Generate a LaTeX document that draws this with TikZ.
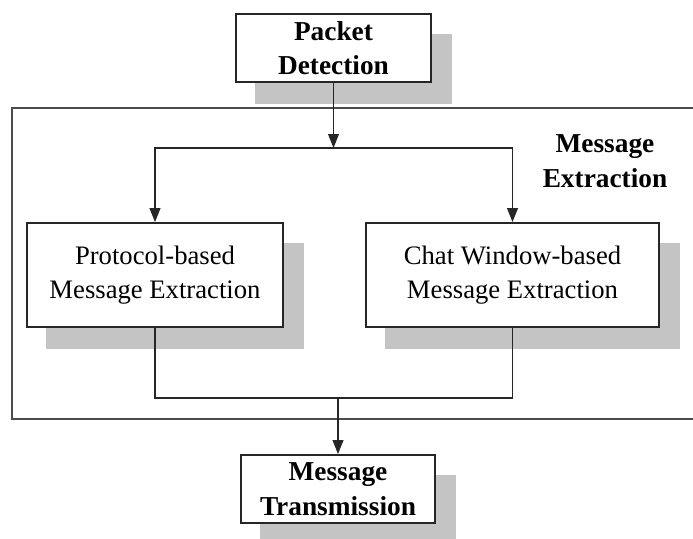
\documentclass[tikz,border=0pt]{standalone}
\usepackage{fontspec}
\setmainfont{Liberation Serif}
\usetikzlibrary{arrows.meta,backgrounds}
\definecolor{shadowgray}{gray}{0.77}
\definecolor{framegray}{gray}{0.3}
\begin{document}
\begin{tikzpicture}[x=0.75pt,y=-0.75pt,
  box/.style={draw=black!85,line width=1.3pt,fill=white,inner sep=0pt,
    align=center,font=\fontsize{20}{26}\selectfont},
  boldbox/.style={box,font=\fontsize{20.5}{26}\selectfont\bfseries},
  label/.style={align=center,font=\fontsize{20.5}{26}\selectfont\bfseries},
  conn/.style={draw=black!85,line width=1.4pt},
  arr/.style={conn,-{Triangle[length=10.5pt,width=8pt]}},
  shadowfill/.style={fill=shadowgray}]
\useasboundingbox (0,0) rectangle (693,539);
\clip (0,0) rectangle (693,539);

% outer frame of the extraction stage
\draw[draw=framegray,line width=1.1pt] (12,108) rectangle (695,419);
\node[label] (mx) at (605,161) {Message\\Extraction};

% boxes
\node[boldbox,minimum width=146pt,minimum height=51pt] (pd) at (333.5,48) {Packet\\Detection};
\node[box,minimum width=192pt,minimum height=78pt] (pb) at (155,275) {Protocol-based\\Message Extraction};
\node[box,minimum width=220pt,minimum height=78pt] (cw) at (512.5,275) {Chat Window-based\\Message Extraction};
\node[boldbox,minimum width=145.5pt,minimum height=51pt] (mt) at (338,489) {Message\\Transmission};

% drop shadows
\begin{scope}[on background layer]
  \foreach \b in {pd,pb,cw,mt}
    \fill[shadowfill] ([shift={(20,21)}]\b.south west) rectangle ([shift={(20,21)}]\b.north east);
\end{scope}

% connectors
\coordinate (split) at (pd.south |- 0,148);
\coordinate (merge) at (mt.north |- 0,398);
\draw[arr] (pd.south) -- (split);
\draw[arr] (split) -| (pb.north);
\draw[arr] (split) -| (cw.north);
\draw[conn] (pb.south) |- (cw.south |- merge) -- (cw.south);
\draw[arr] (merge) -- (mt.north);
\end{tikzpicture}
\end{document}
